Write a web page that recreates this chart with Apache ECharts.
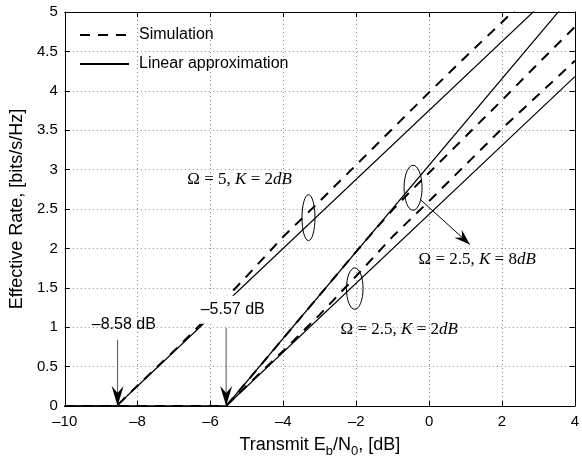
<!DOCTYPE html>
<html>
<head>
<meta charset="utf-8">
<script src="https://cdn.jsdelivr.net/npm/echarts@6/dist/echarts.min.js"></script>
<style>
  html, body { margin: 0; padding: 0; background: #fff; }
  #chart { width: 582px; height: 463px; }
</style>
</head>
<body>
<div id="chart"></div>
<script>
// [Eb/N0 in dB, effective rate in bits/s/Hz]
var omega5Sim = [[-10, 0], [-8.58, 0], [-8, 0.26], [-7, 0.70], [-6, 1.16], [-5, 1.65], [-4, 2.15], [-3, 2.60], [-2, 3.06], [-1, 3.52], [0, 3.98], [1, 4.43], [2, 4.87], [3, 5.32]]
var omega5Lin = [[-10, 0], [-8.58, 0], [4, 5.50]]
var k8Sim = [[-10, 0], [-5.57, 0], [-5, 0.31], [-4, 0.86], [-3, 1.41], [-2, 1.96], [-1.5, 2.23], [-1, 2.49], [-0.5, 2.73], [0, 2.96], [1, 3.42], [2, 3.88], [3, 4.35], [4, 4.81]]
var k8Lin = [[-10, 0], [-5.57, 0], [4, 5.25]]
var k2Sim = [[-10, 0], [-5.57, 0], [-5, 0.26], [-4, 0.70], [-3, 1.16], [-2, 1.65], [-1, 2.15], [0, 2.60], [1, 3.06], [2, 3.52], [3, 3.95], [4, 4.38]]
var k2Lin = [[-10, 0], [-5.57, 0], [4, 4.18]]

var FONT = "'Liberation Sans', Arial, sans-serif"
var SERIF = "'Liberation Serif', 'DejaVu Serif', serif"

function minus(v) {
  return v < 0 ? '\u2013' + Math.abs(v) : String(v)
}

function simSeries(data) {
  return {
    name: 'Simulation', type: 'line', data: data, symbol: 'none', z: 3,
    itemStyle: { color: '#000' },
    lineStyle: { color: '#000', width: 2, type: [10, 8] }
  }
}
function linSeries(data) {
  return {
    name: 'Linear approximation', type: 'line', data: data, symbol: 'none', z: 4,
    itemStyle: { color: '#000' },
    lineStyle: { color: '#000', width: 1.2, type: 'solid' }
  }
}

var dotted = { show: true, lineStyle: { color: '#888', width: 1, type: [1, 3] } }
var tick = { show: true, inside: true, length: 5, lineStyle: { color: '#000' } }
var line = { show: true, onZero: false, lineStyle: { color: '#000', width: 1 } }

var chart = echarts.init(document.getElementById('chart'))
chart.setOption({
  animation: false,
  backgroundColor: '#fff',
  textStyle: { fontFamily: FONT },
  grid: { left: 61, right: 2, top: 12, bottom: 48 },
  legend: {
    data: ['Simulation', 'Linear approximation'],
    orient: 'vertical', left: 74, top: 22,
    itemWidth: 49, itemHeight: 14, itemGap: 13,
    itemStyle: { color: 'rgba(0,0,0,0)', borderWidth: 0, opacity: 0 },
    textStyle: { fontSize: 16, color: '#000', fontFamily: FONT, padding: [0, 0, 0, 5] }
  },
  xAxis: [{
    type: 'value', min: -10, max: 4, interval: 2,
    axisLine: line, axisTick: tick, splitLine: dotted,
    axisLabel: { color: '#000', fontSize: 15, margin: 8, formatter: minus },
    name: 'Transmit E{sub|b}/N{sub|0}, [dB]', nameLocation: 'middle', nameGap: 26,
    nameTextStyle: {
      color: '#000', fontSize: 18, fontFamily: FONT,
      rich: { sub: { fontSize: 13, fontFamily: FONT, padding: [13, 0, 0, 0] } }
    }
  }, {
    type: 'value', min: -10, max: 4, interval: 2, position: 'top',
    axisLine: line, axisTick: tick, splitLine: { show: false }, axisLabel: { show: false }
  }],
  yAxis: [{
    type: 'value', min: 0, max: 5, interval: 0.5,
    axisLine: line, axisTick: tick, splitLine: dotted,
    axisLabel: { color: '#000', fontSize: 15, margin: 7 },
    name: 'Effective Rate, [bits/s/Hz]', nameLocation: 'middle', nameGap: 35,
    nameTextStyle: { color: '#000', fontSize: 18, fontFamily: FONT }
  }, {
    type: 'value', min: 0, max: 5, interval: 0.5, position: 'right',
    axisLine: line, axisTick: tick, splitLine: { show: false }, axisLabel: { show: false }
  }],
  series: [
    simSeries(omega5Sim), linSeries(omega5Lin),
    simSeries(k8Sim), linSeries(k8Lin),
    simSeries(k2Sim), linSeries(k2Lin)
  ]
})

// annotations, placed in data coordinates
function px(p) {
  return chart.convertToPixel({ xAxisIndex: 0, yAxisIndex: 0 }, p)
}
function arrowHead(tip, from, len, half, notch) {
  var dx = tip[0] - from[0], dy = tip[1] - from[1]
  var d = Math.sqrt(dx * dx + dy * dy)
  var ux = dx / d, uy = dy / d, nx = -uy, ny = ux
  var bx = tip[0] - ux * len, by = tip[1] - uy * len
  return [tip, [bx + nx * half, by + ny * half], [tip[0] - ux * notch, tip[1] - uy * notch], [bx - nx * half, by - ny * half]]
}

var ellipses = [
  { at: [-3.31, 2.39], rx: 6.5, ry: 23 },
  { at: [-2.04, 1.49], rx: 8.3, ry: 20.7 },
  { at: [-0.44, 2.77], rx: 9, ry: 22.5 }
]
var arrows = [
  { from: [-8.55, 0.84], to: [-8.55, 0.0], color: '#555', len: 20, half: 6 },
  { from: [-5.57, 0.99], to: [-5.57, 0.0], color: '#555', len: 20, half: 6 },
  { from: [-0.24, 2.62], to: [1.12, 2.05], color: '#000', len: 16, half: 5.5 }
]

var g = []
ellipses.forEach(function (e) {
  var c = px(e.at)
  g.push({ type: 'ellipse', shape: { cx: c[0], cy: c[1], rx: e.rx, ry: e.ry }, style: { fill: null, stroke: '#000', lineWidth: 1 }, z: 100 })
})
arrows.forEach(function (a) {
  var p0 = px(a.from), p1 = px(a.to)
  g.push({ type: 'line', shape: { x1: p0[0], y1: p0[1], x2: p1[0], y2: p1[1] }, style: { stroke: a.color, lineWidth: 1 }, z: 100 })
  g.push({ type: 'polygon', shape: { points: arrowHead(p1, p0, a.len, a.half, a.len * 0.65) }, style: { fill: '#000' }, z: 101 })
})

function plainLabel(at, text, boxed) {
  var c = px(at)
  var st = { text: text, font: '16px ' + FONT, fill: '#000', align: 'center', verticalAlign: 'middle' }
  if (boxed) {
    st.backgroundColor = '#fff'
    st.padding = [6, 3, 6, 3]
  }
  return { type: 'text', x: c[0], y: c[1], style: st, z: 102 }
}
function mathLabel(at, omega, k) {
  var c = px(at)
  return {
    type: 'text', x: c[0], y: c[1], z: 102,
    style: {
      text: '{n|\u03A9 = ' + omega + ', }{i|K}{n| = ' + k + '}{i|dB}',
      align: 'center', verticalAlign: 'middle', fill: '#000',
      rich: {
        n: { font: '17px ' + SERIF, fill: '#000' },
        i: { font: 'italic 17px ' + SERIF, fill: '#000' }
      }
    }
  }
}

g.push(plainLabel([-8.38, 1.03], '\u20138.58 dB', false))
g.push(plainLabel([-5.39, 1.22], '\u20135.57 dB', true))
g.push(mathLabel([-5.20, 2.87], '5', '2'))
g.push(mathLabel([1.32, 1.86], '2.5', '8'))
g.push(mathLabel([-0.82, 0.97], '2.5', '2'))

chart.setOption({ graphic: g })
</script>
</body>
</html>
